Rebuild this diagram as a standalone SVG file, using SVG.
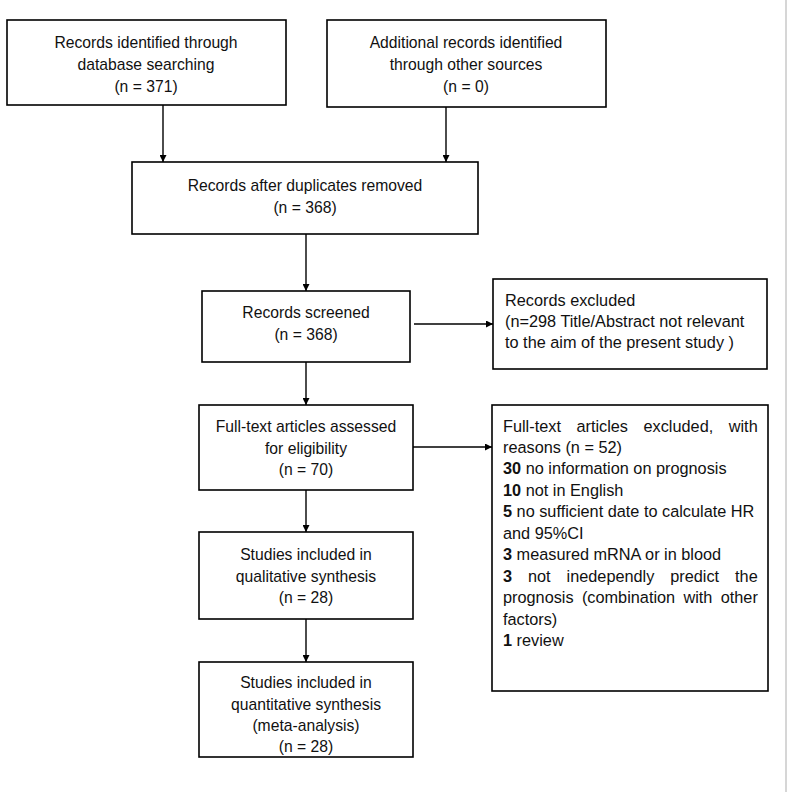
<svg xmlns="http://www.w3.org/2000/svg" width="792" height="792" viewBox="0 0 792 792">
<defs>
<marker id="ah" viewBox="0 0 10 10" refX="10" refY="5" markerWidth="7" markerHeight="7" markerUnits="userSpaceOnUse" orient="auto">
<path d="M0,0 L10,5 L0,10 z" fill="#000"/>
</marker>
<style>
.box{fill:#fff;stroke:#000;stroke-width:1.6}
.t{font-family:"Liberation Sans",Arial,sans-serif;font-size:15.7px;fill:#111;text-anchor:middle}
.r{font-family:"Liberation Sans",Arial,sans-serif;font-size:16.3px;fill:#111}
.b{font-weight:bold}
.c{stroke:#000;stroke-width:1.4;fill:none;marker-end:url(#ah)}
</style>
</defs>
<rect width="792" height="792" fill="#fff"/>
<line x1="786" y1="0" x2="786" y2="792" stroke="#c8c8c8" stroke-width="1.5"/>
<g id="n1"><rect class="box" x="7" y="20" width="279" height="85"/>
<text class="t" x="146" y="48">Records identified through</text>
<text class="t" x="146" y="70">database searching</text>
<text class="t" x="146" y="92">(n = 371)</text></g>
<g id="n2"><rect class="box" x="327" y="20" width="279" height="87"/>
<text class="t" x="466" y="48">Additional records identified</text>
<text class="t" x="466" y="70">through other sources</text>
<text class="t" x="466" y="92">(n = 0)</text></g>
<g id="n3"><rect class="box" x="132" y="162" width="346" height="72"/>
<text class="t" x="305" y="191">Records after duplicates removed</text>
<text class="t" x="305" y="213">(n = 368)</text></g>
<g id="n4"><rect class="box" x="202" y="291" width="208" height="71"/>
<text class="t" x="306" y="318">Records screened</text>
<text class="t" x="306" y="340">(n = 368)</text></g>
<g id="n5"><rect class="box" x="493" y="279" width="274" height="90"/>
<text class="r" x="505" y="306">Records excluded</text>
<text class="r" x="505" y="327">(n=298 Title/Abstract not relevant</text>
<text class="r" x="505" y="348">to the aim of the present study )</text></g>
<g id="n6"><rect class="box" x="199" y="405" width="214" height="85"/>
<text class="t" x="306" y="432">Full-text articles assessed</text>
<text class="t" x="306" y="454">for eligibility</text>
<text class="t" x="306" y="475">(n = 70)</text></g>
<g id="n7"><rect class="box" x="492" y="405" width="276" height="286"/>
<text class="r" x="503" y="432" word-spacing="11">Full-text articles excluded, with</text>
<text class="r" x="503" y="453">reasons (n = 52)</text>
<text class="r" x="503" y="474"><tspan class="b">30</tspan> no information on prognosis</text>
<text class="r" x="503" y="496"><tspan class="b">10</tspan> not in English</text>
<text class="r" x="503" y="517"><tspan class="b">5</tspan> no sufficient date to calculate HR</text>
<text class="r" x="503" y="539">and 95%CI</text>
<text class="r" x="503" y="560"><tspan class="b">3</tspan> measured mRNA or in blood</text>
<text class="r" x="503" y="582" word-spacing="11.4"><tspan class="b">3</tspan> not inedependly predict the</text>
<text class="r" x="503" y="603" word-spacing="3.8">prognosis (combination with other</text>
<text class="r" x="503" y="625">factors)</text>
<text class="r" x="503" y="646"><tspan class="b">1</tspan> review</text></g>
<g id="n8"><rect class="box" x="199" y="532" width="214" height="87"/>
<text class="t" x="306" y="560">Studies included in</text>
<text class="t" x="306" y="582">qualitative synthesis</text>
<text class="t" x="306" y="603">(n = 28)</text></g>
<g id="n9"><rect class="box" x="199" y="662" width="214" height="95"/>
<text class="t" x="306" y="688">Studies included in</text>
<text class="t" x="306" y="710">quantitative synthesis</text>
<text class="t" x="306" y="731">(meta-analysis)</text>
<text class="t" x="306" y="752">(n = 28)</text></g>
<g id="connectors">
<line class="c" x1="163" y1="105" x2="163" y2="162"/>
<line class="c" x1="446" y1="107" x2="446" y2="162"/>
<line class="c" x1="306" y1="234" x2="306" y2="291"/>
<line class="c" x1="414" y1="324" x2="493" y2="324"/>
<line class="c" x1="306" y1="362" x2="306" y2="405"/>
<line class="c" x1="413" y1="447" x2="492" y2="447"/>
<line class="c" x1="306" y1="490" x2="306" y2="532"/>
<line class="c" x1="306" y1="619" x2="306" y2="662"/>
</g>
</svg>
